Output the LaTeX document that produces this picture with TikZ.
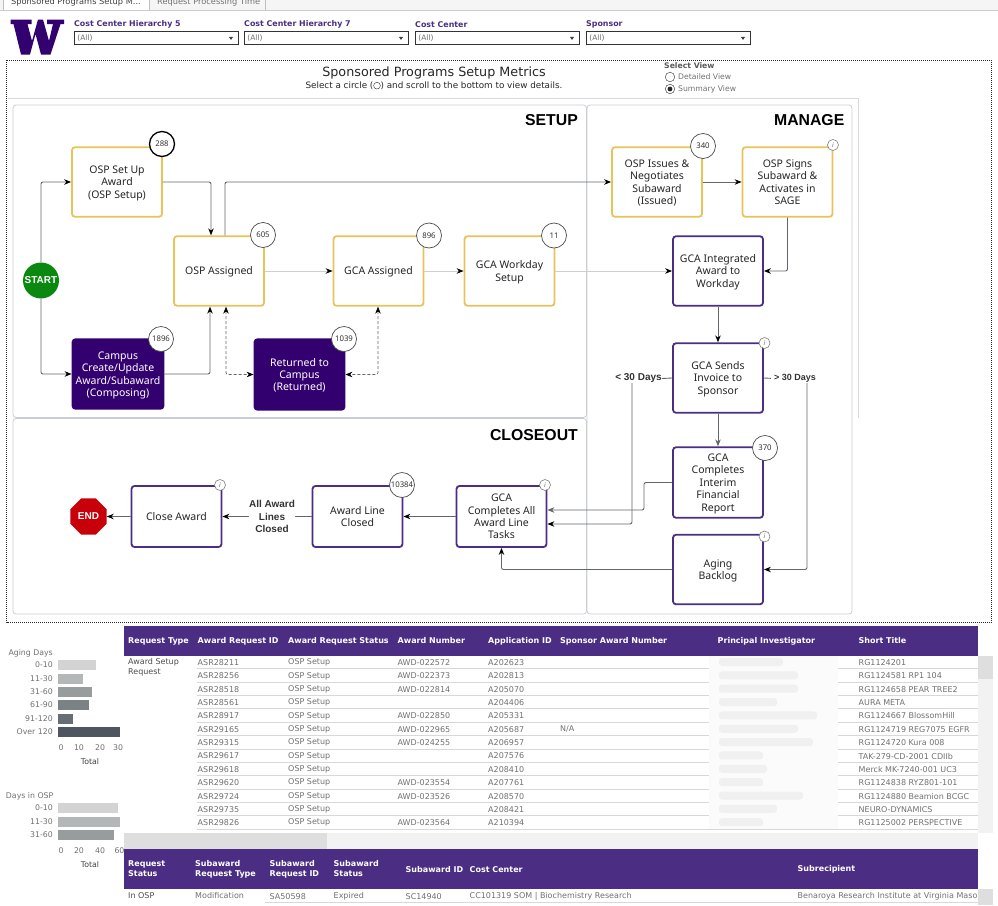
\documentclass[tikz,border=0pt]{standalone}
\usepackage{fontspec}
\setmainfont{Noto Sans}
\newfontfamily\tabfont{DejaVu Sans}
\newfontfamily\titlefont{Liberation Sans}
\usepackage{tikz}
\usetikzlibrary{shapes.geometric, arrows, arrows.meta}
\definecolor{uwpurple}{HTML}{33006F}
\definecolor{hdrpurple}{HTML}{4B2E83}
\definecolor{uwgold}{HTML}{E8C35A}
\definecolor{framegrey}{HTML}{C9CDD4}
\definecolor{linegrey}{HTML}{62666D}
\definecolor{paleline}{HTML}{CFCFCF}
\definecolor{cellgrey}{HTML}{707070}
\definecolor{rowline}{HTML}{D8D8D8}
\definecolor{startgreen}{HTML}{0A880F}
\definecolor{endred}{HTML}{C8000A}
\tikzstyle{ospbox} = [rectangle, rounded corners=3pt, minimum width=90pt, minimum height=69.5pt, align=center, draw=uwgold, line width=1.8pt, fill=white, inner sep=1pt, font=\fontsize{10.5}{12.4}\selectfont, text=black!85, text depth=-2pt]
\tikzstyle{gcabox} = [ospbox, draw=hdrpurple]
\tikzstyle{campusbox} = [ospbox, draw=uwpurple, fill=uwpurple, text=white]
\tikzstyle{badge} = [circle, draw=black!70, line width=0.7pt, fill=white, inner sep=0pt, minimum size=25pt, font=\fontsize{7.8}{9}\selectfont, text=black!80]
\tikzstyle{infobadge} = [circle, draw=black!50, line width=0.6pt, fill=white, inner sep=0pt, minimum size=11pt, font=\fontsize{6.5}{7}\itshape\selectfont, text=black!60]
\tikzstyle{arrow} = [line width=0.9pt, draw=linegrey, ->, >={Stealth[color=black, length=7pt, width=5.5pt]}, rounded corners=2pt]
\tikzstyle{palearrow} = [arrow, draw=paleline]
\tikzstyle{slatearrow} = [arrow, >={Stealth[color=linegrey, length=7pt, width=5.5pt]}]
\tikzstyle{dasharrow} = [arrow, densely dashed, <->, line width=0.7pt]
\tikzstyle{plainline} = [line width=0.9pt, draw=linegrey]
\tikzstyle{panel} = [draw=framegrey, line width=0.8pt, rounded corners=3pt]
\tikzstyle{paneltitle} = [anchor=east, inner sep=0pt, font=\titlefont\bfseries\fontsize{15.8}{18}\selectfont]
\tikzstyle{daylabel} = [inner sep=0pt, align=center, font=\titlefont\bfseries\fontsize{10}{12.3}\selectfont, text=black!80]
\tikzstyle{filterlabel} = [anchor=west, inner sep=0pt, font=\tabfont\bfseries\fontsize{7.9}{9}\selectfont, text=hdrpurple]
\tikzstyle{filterbox} = [anchor=west, draw=black!80, line width=0.8pt, fill=white, minimum width=164pt, minimum height=13pt, inner sep=3pt, text width=158pt, text height=5.5pt, text depth=0.5pt, font=\tabfont\fontsize{7.5}{9}\selectfont, text=cellgrey]
\tikzstyle{filtertip} = [isosceles triangle, shape border rotate=-90, isosceles triangle apex angle=70, fill=black!75, inner sep=0pt, minimum size=3pt]
\tikzstyle{thead} = [anchor=west, inner sep=0pt, align=left, font=\tabfont\bfseries\fontsize{8}{10}\selectfont, text=white]
\tikzstyle{tcell} = [anchor=west, inner sep=0pt, align=left, font=\tabfont\fontsize{8}{10}\selectfont, text=cellgrey]
\tikzstyle{axislabel} = [inner sep=0pt, font=\tabfont\fontsize{7.8}{9}\selectfont, text=cellgrey]
\tikzstyle{barlabel} = [axislabel, anchor=east]
\begin{document}
\begin{tikzpicture}[x=1pt, y=-1pt, node distance=107pt]
	\useasboundingbox (0,0) rectangle (998,905);
	% tabs and filters
	\fill [black!4] (0,0) rectangle (998,10);
	\fill [white] (3,0) rectangle (149,10);
	\draw [black!20, line width=0.7pt] (0,10.5) -- (998,10.5);
	\draw [black!25, line width=0.7pt] (3,0) -- (3,10) (149,0) -- (149,10) (265,0) -- (265,10);
	\node (tabsetup) [anchor=west, inner sep=0pt, font=\tabfont\fontsize{8.25}{10}\selectfont, text=black!75] at (11,2.5) {Sponsored Programs Setup M...};
	\node (tabtime) [anchor=west, inner sep=0pt, font=\tabfont\fontsize{8.25}{10}\selectfont, text=black!55] at (157,2.5) {Request Processing Time};
	\fill [uwpurple] (10.5,19.5) -- (31.5,19.5) -- (31.5,24) -- (27.5,24) -- (32,41) -- (38,19.5) -- (43,19.5) -- (49,41) -- (53,24) -- (47,24) -- (47,19.5) -- (64,19.5) -- (64,24) -- (60.5,24) -- (50.5,54.5) -- (41,54.5) -- (35.5,34) -- (30,54.5) -- (21,54.5) -- (13.5,24) -- (10.5,24) -- cycle;
	\node (flabel1) [filterlabel] at (74,24.5) {Cost Center Hierarchy 5};
	\node (flabel2) [filterlabel] at (244,24.5) {Cost Center Hierarchy 7};
	\node (flabel3) [filterlabel] at (415,24.5) {Cost Center};
	\node (flabel4) [filterlabel] at (586,24.5) {Sponsor};
	\node (fbox1) [filterbox] at (74,37.5) {(All)};
	\node (fbox2) [filterbox] at (244,37.5) {(All)};
	\node (fbox3) [filterbox] at (415,37.5) {(All)};
	\node (fbox4) [filterbox] at (586,37.5) {(All)};
	\node (ftip1) [filtertip] at (231,38) {};
	\node (ftip2) [filtertip] at (401,38) {};
	\node (ftip3) [filtertip] at (572,38) {};
	\node (ftip4) [filtertip] at (743,38) {};
	% dashboard frame
	\draw [black!85, line width=0.6pt, dash pattern=on 0.7pt off 1.3pt] (6.5,60) rectangle (991,622);
	\draw [black!15, line width=0.8pt] (8,98) -- (858,98) -- (858,418);
	\node (title) [inner sep=0pt, font=\tabfont\fontsize{12.75}{14}\selectfont, text=black!85] at (434,73) {Sponsored Programs Setup Metrics};
	\node (subtitle) [inner sep=0pt, font=\tabfont\fontsize{8.8}{10}\selectfont, text=black!85] at (434,86) {Select a circle (\raisebox{-0.5pt}{\tikz\draw[line width=0.4pt] (0,0) circle (3.4pt);}) and scroll to the bottom to view details.};
	\node (selectview) [anchor=west, inner sep=0pt, font=\tabfont\bfseries\fontsize{7.7}{9}\selectfont, text=black!65] at (664,65.5) {Select View};
	\node (radio1) [circle, draw=black!70, fill=white, line width=0.5pt, minimum size=9.5pt, inner sep=0pt] at (670,77) {};
	\node (radio2) [circle, draw=black!70, fill=white, line width=0.5pt, minimum size=9.5pt, inner sep=0pt] at (670,89) {};
	\fill [black!85] (radio2.center) circle (2.4pt);
	\node (detailed) [anchor=west, inner sep=0pt, font=\tabfont\fontsize{7.7}{9}\selectfont, text=cellgrey] at (678,77) {Detailed View};
	\node (summary) [anchor=west, inner sep=0pt, font=\tabfont\fontsize{7.7}{9}\selectfont, text=cellgrey] at (678,89.5) {Summary View};
	% panels
	\draw [panel] (13,105) rectangle (586.5,417.5);
	\draw [panel] (13,418.5) rectangle (586.5,614);
	\draw [panel] (587,105) rectangle (852,614);
	\node (setup) [paneltitle] at (578,120.5) {SETUP};
	\node (manage) [paneltitle] at (844.5,120.5) {MANAGE};
	\node (closeout) [paneltitle] at (578,435) {CLOSEOUT};
	% setup nodes
	\node (start) [circle, fill=startgreen, minimum size=36pt, inner sep=0pt, text=white, font=\titlefont\bfseries\fontsize{10}{10}\selectfont] at (41,280.5) {START};
	\node (ospsetup) [ospbox] at (117,182) {OSP Set Up\\Award\\(OSP Setup)};
	\node (campus) [campusbox, minimum width=91pt] at (118,374) {Campus\\Create/Update\\Award/Subaward\\(Composing)};
	\node (ospassigned) [ospbox] at (219,271) {OSP Assigned};
	\node (gcaassigned) [ospbox, right of=ospassigned, node distance=159.5pt] {GCA Assigned};
	\node (gcaworkday) [ospbox, right of=gcaassigned, node distance=131pt] {GCA Workday\\Setup};
	\node (returned) [campusbox, minimum height=70.5pt] at (299.5,374.5) {Returned to\\Campus\\(Returned)};
	% manage nodes
	\node (ospissues) [ospbox] at (657,182) {OSP Issues \&\\Negotiates\\Subaward\\(Issued)};
	\node (ospsigns) [ospbox, right of=ospissues, node distance=130.5pt] {OSP Signs\\Subaward \&\\Activates in\\SAGE};
	\node (gcaintegrated) [gcabox] at (718,271) {GCA Integrated\\Award to\\Workday};
	\node (gcasends) [gcabox, below of=gcaintegrated] {GCA Sends\\Invoice to\\Sponsor};
	\node (gcainterim) [gcabox, minimum height=70.5pt, below of=gcasends, node distance=104.5pt] {GCA\\Completes\\Interim\\Financial\\Report};
	\node (aging) [gcabox, below of=gcainterim, node distance=87pt] {Aging\\Backlog};
	\node (lessdays) [daylabel] at (638.5,378.5) {< 30 Days};
	\node (moredays) [daylabel, font=\titlefont\bfseries\fontsize{9}{12}\selectfont] at (795,378.5) {> 30 Days};
	% closeout nodes
	\node (gcaall) [gcabox, minimum height=61pt] at (501.5,516.5) {GCA\\Completes All\\Award Line\\Tasks};
	\node (lineclosed) [gcabox, minimum height=61pt] at (357.5,516.5) {Award Line\\Closed};
	\node (closeaward) [gcabox, minimum height=61pt] at (176.5,516.5) {Close Award};
	\node (alllines) [daylabel] at (272,516.5) {All Award\\Lines\\Closed};
	\node (endnode) [regular polygon, regular polygon sides=8, fill=endred, minimum size=39pt, inner sep=0pt, text=white, font=\titlefont\bfseries\fontsize{10}{10}\selectfont] at (88.5,516.5) {END};
	% connectors
	\draw [arrow] (start.north) |- (ospsetup.west);
	\draw [arrow] (start.south) |- (campus.west);
	\draw [arrow] (ospsetup.east) -| ([xshift=-8pt]ospassigned.north);
	\draw [arrow] ([xshift=6pt]ospassigned.north) |- (ospissues.west);
	\draw [arrow] (campus.east) -| ([xshift=-9pt]ospassigned.south);
	\draw [dasharrow] ([xshift=7pt]ospassigned.south) |- (returned.west);
	\draw [dasharrow] ([xshift=-0.5pt]gcaassigned.south) |- (returned.east);
	\draw [palearrow] (ospassigned) -- (gcaassigned);
	\draw [palearrow] (gcaassigned) -- (gcaworkday);
	\draw [palearrow] (gcaworkday) -- (gcaintegrated);
	\draw [arrow] (ospissues) -- (ospsigns);
	\draw [arrow] (ospsigns.south) |- (gcaintegrated.east);
	\draw [arrow] (gcaintegrated) -- (gcasends);
	\draw [slatearrow] (gcasends) -- (gcainterim);
	\draw [plainline] (gcasends.west) -- (lessdays.east);
	\draw [plainline, shorten >=3pt] (gcasends.east) -- (moredays.west);
	\draw [arrow] ([xshift=-6.5pt]lessdays.south) |- ([yshift=-7.5pt]gcaall.east);
	\draw [arrow] ([xshift=12pt]moredays.south) |- (aging.east);
	\coordinate (bendinterim) at (644,482.5);
	\draw [slatearrow] (gcainterim.west) -- (bendinterim) |- ([yshift=6.5pt]gcaall.east);
	\draw [arrow] (aging.west) -| (gcaall.south);
	\draw [arrow] (gcaall) -- (lineclosed);
	\draw [plainline] (lineclosed) -- (alllines);
	\draw [arrow] (alllines) -- (closeaward);
	\draw [arrow] (closeaward) -- (endnode);
	% badges
	\node (b288) [badge, draw=black, line width=1.3pt] at (162,144) {288};
	\node (b605) [badge] at (263,235) {605};
	\node (b896) [badge] at (429,235.5) {896};
	\node (b11) [badge] at (554,235.5) {11};
	\node (b1896) [badge] at (161,339) {1896};
	\node (b1039) [badge] at (344,339) {1039};
	\node (b340) [badge] at (703,146) {340};
	\node (b370) [badge] at (765,448) {370};
	\node (b10384) [badge] at (402,485) {10384};
	\node (i1) [infobadge] at (833,145) {i};
	\node (i2) [infobadge] at (764.5,343) {i};
	\node (i3) [infobadge] at (545,485) {i};
	\node (i4) [infobadge] at (220,485) {i};
	\node (i5) [infobadge] at (764.5,536.5) {i};
	% aging chart
	\node (agingdays) [barlabel] at (53,653) {Aging Days};
	\foreach \nm/\ytop/\xend/\col in {0-10/660/96/D3D3D3, 11-30/673.5/83/B3B7B7, 31-60/687/92/979D9D, 61-90/700/89/7A8285, 91-120/713.5/72.5/666D75, Over 120/727/120/50565F} {
		\definecolor{barcol}{HTML}{\col}
		\fill [barcol] (58,\ytop) rectangle (\xend,\ytop+10);
		\node (a\ytop) [barlabel] at (53,\ytop+5) {\nm};
	}
	\foreach \xt/\lab in {61/0, 79/10, 100/20, 118/30} {
		\node (ax\lab) [axislabel] at (\xt,748) {\lab};
	}
	\node (atotal) [axislabel, text=black!75] at (90,762) {Total};
	% osp chart
	\node (ospdays) [barlabel] at (53.5,796) {Days in OSP};
	\foreach \nm/\ytop/\xend/\col in {0-10/803/117.5/D3D3D3, 11-30/816.5/120/B3B7B7, 31-60/830/114/979D9D} {
		\definecolor{barcol}{HTML}{\col}
		\fill [barcol] (58,\ytop) rectangle (\xend,\ytop+10);
		\node (o\ytop) [barlabel] at (53,\ytop+5) {\nm};
	}
	\foreach \xt/\lab in {61/0, 79/20, 100/40, 119.5/60} {
		\node (ox\lab) [axislabel] at (\xt,851) {\lab};
	}
	\node (ototal) [axislabel, text=black!75] at (90,865) {Total};
	% request table
	\fill [hdrpurple] (124,626) rectangle (978,655.5);
	\fill [black!5] (978,655.5) rectangle (993,833);
	\fill [black!13] (978,655.5) rectangle (993,679);
	\node (h1) [thead] at (128,641) {Request Type};
	\node (h2) [thead] at (197.5,641) {Award Request ID};
	\node (h3) [thead] at (288,641) {Award Request Status};
	\node (h4) [thead] at (397.5,641) {Award Number};
	\node (h5) [thead] at (488,641) {Application ID};
	\node (h6) [thead] at (560,641) {Sponsor Award Number};
	\node (h7) [thead] at (717.5,641) {Principal Investigator};
	\node (h8) [thead] at (858.5,641) {Short Title};
	\node (rtype) [tcell, text=black!70, font=\tabfont\fontsize{8}{10.2}\selectfont] at (128,667.5) {Award Setup\\Request};
	\foreach \i/\rid/\awd/\app/\ttl in {0/ASR28211/AWD-022572/A202623/RG1124201, 1/ASR28256/AWD-022373/A202813/RG1124581 RP1 104, 2/ASR28518/AWD-022814/A205070/RG1124658 PEAR TREE2, 3/ASR28561//A204406/AURA META, 4/ASR28917/AWD-022850/A205331/RG1124667 BlossomHill, 5/ASR29165/AWD-022965/A205687/RG1124719 REG7075 EGFR, 6/ASR29315/AWD-024255/A206957/RG1124720 Kura 008, 7/ASR29617//A207576/TAK-279-CD-2001 CDIIb, 8/ASR29618//A208410/Merck MK-7240-001 UC3, 9/ASR29620/AWD-023554/A207761/RG1124838 RYZ801-101, 10/ASR29724/AWD-023526/A208570/RG1124880 Beamion BCGC, 11/ASR29735//A208421/NEURO-DYNAMICS, 12/ASR29826/AWD-023564/A210394/RG1125002 PERSPECTIVE} {
		\pgfmathsetmacro{\ry}{662.6+13.35*\i}
		\draw [rowline, line width=0.6pt] (197,\ry+6.1) -- (978,\ry+6.1);
		\node (rid\i) [tcell] at (197.5,\ry) {\rid};
		\node (rst\i) [tcell] at (288,\ry) {OSP Setup};
		\node (raw\i) [tcell] at (397.5,\ry) {\awd};
		\node (rap\i) [tcell] at (488,\ry) {\app};
		\node (rtl\i) [tcell] at (858.5,\ry) {\ttl};
	}
	\node (rna) [tcell] at (560,729.4) {N/A};
	% blurred names
	\fill [black!1.5] (709,655.5) rectangle (838,829);
	\foreach \i/\xend in {0/783, 1/798, 2/798, 3/777, 4/817, 5/798, 6/813, 7/763, 8/767, 9/763, 10/803, 11/777, 12/763} {
		\fill [black!6, rounded corners=3pt] (719,658+13.35*\i) rectangle (\xend,666+13.35*\i);
	}
	% subaward table
	\fill [black!5] (124,833) rectangle (978,849);
	\fill [black!13] (124,833) rectangle (327,849);
	\fill [hdrpurple] (124,849) rectangle (978,889);
	\fill [black!13] (978,889) rectangle (993,905);
	\node (s1) [thead] at (128,869) {Request\\Status};
	\node (s2) [thead] at (195,869) {Subaward\\Request Type};
	\node (s3) [thead] at (269.5,869) {Subaward\\Request ID};
	\node (s4) [thead] at (333.5,869) {Subaward\\Status};
	\node (s5) [thead] at (405.5,869.5) {Subaward ID};
	\node (s6) [thead] at (469.5,869.5) {Cost Center};
	\node (s7) [thead] at (797.5,869.5) {Subrecipient};
	\draw [rowline, line width=0.6pt] (265,902.5) -- (978,902.5);
	\node (v1) [tcell, text=black!70] at (128,895.5) {In OSP};
	\node (v2) [tcell] at (195,895.5) {Modification};
	\node (v3) [tcell] at (269.5,896.5) {SA50598};
	\node (v4) [tcell] at (333.5,896.5) {Expired};
	\node (v5) [tcell] at (405.5,896.5) {SC14940};
	\node (v6) [tcell] at (469.5,896.5) {CC101319 SOM | Biochemistry Research};
	\node (v7) [tcell] at (797.5,896.5) {Benaroya Research Institute at Virginia Maso};
\end{tikzpicture}
\end{document}
